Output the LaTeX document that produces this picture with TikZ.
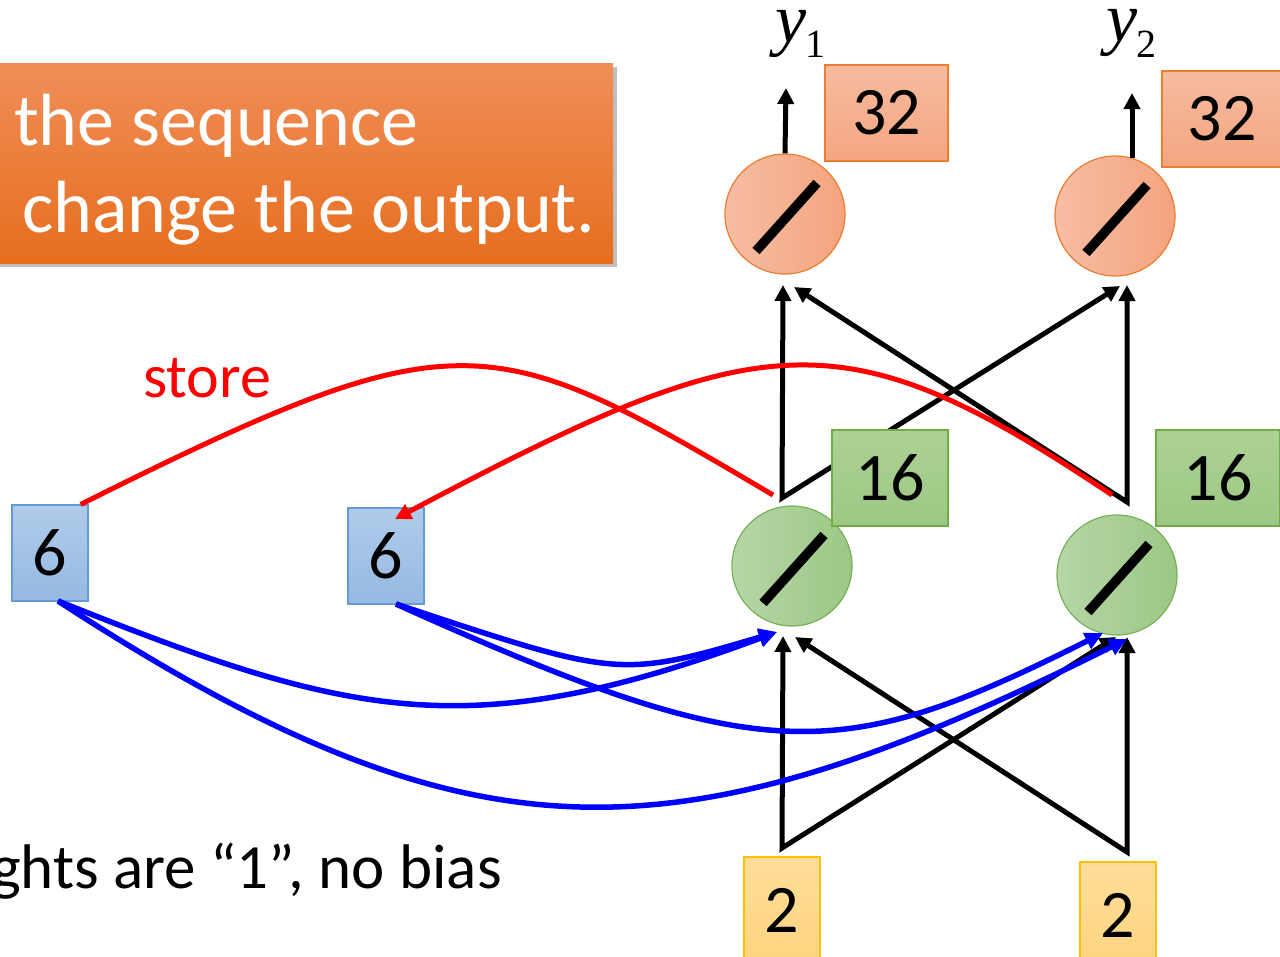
\documentclass[tikz,border=0pt]{standalone}
\usepackage{fontspec}
\setmainfont{Carlito}
\newfontfamily\serifylab{Liberation Serif}
\usetikzlibrary{arrows.meta,shadows,calc}
\newcommand\myfs[1]{\fontsize{#1}{#1}\selectfont}
\definecolor{bantop}{RGB}{240,142,88}
\definecolor{banbot}{RGB}{230,110,30}
\definecolor{gcl}{RGB}{182,214,166}
\definecolor{gcr}{RGB}{156,199,133}
\definecolor{gcb}{RGB}{120,176,90}
\definecolor{ocl}{RGB}{247,189,164}
\definecolor{ocr}{RGB}{244,164,126}
\definecolor{ocb}{RGB}{237,125,49}
\definecolor{bbt}{RGB}{176,203,234}
\definecolor{bbb}{RGB}{150,185,226}
\definecolor{bbd}{RGB}{100,155,212}
\definecolor{gbt}{RGB}{172,209,148}
\definecolor{gbb}{RGB}{157,200,132}
\definecolor{gbd}{RGB}{112,173,71}
\definecolor{obt}{RGB}{246,187,160}
\definecolor{obb}{RGB}{244,166,128}
\definecolor{ybt}{RGB}{255,221,154}
\definecolor{ybb}{RGB}{255,212,126}
\definecolor{ybd}{RGB}{255,192,0}
\begin{document}
\begin{tikzpicture}[x=1pt,y=-1pt,
  >={Triangle[length=16pt,width=16pt]},
  blk/.style={line width=5pt,black,line join=miter},
  redc/.style={line width=5pt,red},
  bluec/.style={line width=5.5pt,blue,-{Triangle[length=18pt,width=17pt]}},
  slash/.style={line width=9.5pt,black},
  boxbase/.style={rectangle,inner sep=0pt,line width=1.2pt,font=\myfs{68}},
  bluebox/.style={boxbase,draw=bbd,top color=bbt,bottom color=bbb,minimum width=76pt,minimum height=96pt},
  greenbox/.style={boxbase,draw=gbd,top color=gbt,bottom color=gbb,minimum height=96pt},
  orangebox/.style={boxbase,draw=ocb,top color=obt,bottom color=obb,minimum height=96pt},
  yellowbox/.style={boxbase,draw=ybd,top color=ybt,bottom color=ybb,minimum width=76pt,minimum height=106pt},
  gcirc/.style={circle,inner sep=0pt,minimum size=120pt,draw=gcb,line width=1.2pt,left color=gcl,right color=gcr},
  ocirc/.style={circle,inner sep=0pt,minimum size=120pt,draw=ocb,line width=1.2pt,left color=ocl,right color=ocr},
  txt/.style={inner sep=0pt,font=\myfs{74}}
]
\useasboundingbox (0,0) rectangle (1280,956);

% banner
\node[rectangle,inner sep=0pt,minimum width=633pt,minimum height=200pt,
  top color=bantop,bottom color=banbot,
  drop shadow={shadow xshift=4pt,shadow yshift=-4pt,fill=black,opacity=0.25}] (ban) at (296.5,163) {};
\node[txt,text=white,anchor=base west] (t1) at (14,145) {the sequence};
\node[txt,text=white,anchor=base west] (t2) at (22,232) {change the output.};

% store label
\node[inner sep=0pt,font=\myfs{62},text=red,anchor=base west] (store) at (143,397) {store};

% bottom text
\node[inner sep=0pt,font=\myfs{63},anchor=base east] (wt) at (502,888) {ghts are “1”, no bias};

% circles
\node[gcirc] (c1) at (792,566) {};
\node[gcirc] (c2) at (1117,575) {};
\node[ocirc] (o1) at (785,214) {};
\node[ocirc] (o2) at (1115,216) {};
\foreach \n in {c1,c2,o1,o2}{
  \draw[slash] ($(\n.center)+(-29,37)$) -- ($(\n.center)+(32,-31)$);
}

% named points
\coordinate (j1) at (782,498);
\coordinate (j2) at (1127,502);
\coordinate (k1) at (782,848);
\coordinate (k2) at (1127,852);
\coordinate (o1a) at (783,285);
\coordinate (o1b) at (794,287);
\coordinate (o2a) at (1120,286);
\coordinate (o2b) at (1127,285);
\coordinate (c1a) at (783,636);
\coordinate (c1b) at (795,637);
\coordinate (c2a) at (1116,637);
\coordinate (c2b) at (1127,637);
\coordinate (o1out) at (786,88);
\coordinate (o2out) at (1132,93);
\coordinate (o2s) at (1132,158);

% output arrows
\draw[blk,->] (o1.north) -- (o1out);
\draw[blk,->] (o2s) -- (o2out);

% black connectors
\draw[blk,<->] (o1a) -- (j1) -- (o2a);
\draw[blk,<->] (o2b) -- (j2) -- (o1b);
\draw[blk,<->] (c1a) -- (k1) -- (c2a);
\draw[blk,<->] (c2b) -- (k2) -- (c1b);

% boxes
\node[bluebox] (b1) at (50,553) {6};
\node[bluebox] (b2) at (386,556) {6};
\node[greenbox,minimum width=116pt] (g1) at (890,478) {16};
\node[greenbox,minimum width=124pt] (g2) at (1218,478) {16};
\node[orangebox,minimum width=123pt] (r1) at (886.5,113) {32};
\node[orangebox,minimum width=120pt] (r2) at (1222,119) {32};
\node[yellowbox] (y1) at (782,910) {2};
\node[yellowbox] (y2) at (1118,915) {2};

% red store curves
\coordinate (rs1) at (773,495);
\coordinate (rs2) at (1112,495);
\coordinate (re1) at ($(b1.north east)+(-8,0)$);
\coordinate (re2) at (395,519);
\draw[redc] (rs1) .. controls (489,327) and (460,315) .. (re1);
\draw[redc,->] (rs2) .. controls (842,314) and (763,324) .. (re2);

% blue curves
\coordinate (bs1) at (58,601);
\coordinate (bs2) at (396,604);
\coordinate (be1) at (777,632);
\coordinate (be2) at (1103,633);
\coordinate (be3) at (1127,639);
\draw[bluec] (bs1) .. controls (348,717) and (467,747) .. (be1);
\draw[bluec] (bs2) .. controls (616,677) and (619,679) .. (be1);
\draw[bluec] (bs1) .. controls (475,872) and (677,864) .. (be3);
\draw[bluec] (bs2) .. controls (766,771) and (841,764) .. (be2);

% output labels
\node[inner sep=0pt,anchor=base west] (ly1) at (775,42) {\serifylab\myfs{70}\itshape y\kern-1pt\raisebox{-15pt}{\upshape\myfs{40}1}};
\node[inner sep=0pt,anchor=base west] (ly2) at (1106,41) {\serifylab\myfs{70}\itshape y\kern-1pt\raisebox{-16pt}{\upshape\myfs{40}2}};
\end{tikzpicture}
\end{document}
